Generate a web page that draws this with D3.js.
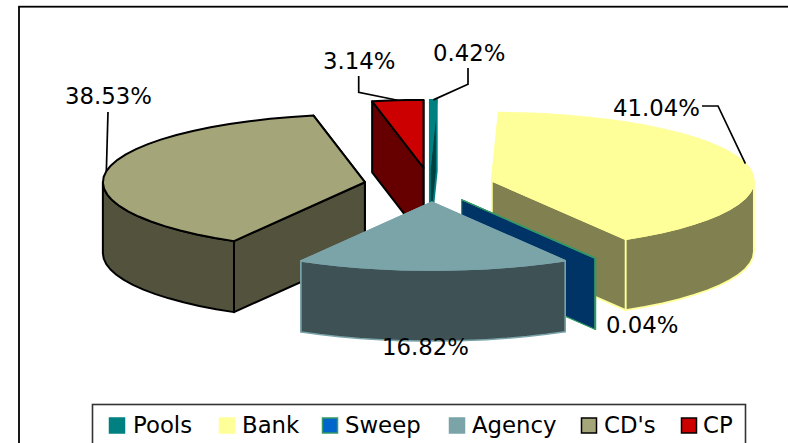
<!DOCTYPE html>
<html>
<head>
<meta charset="utf-8">
<script src="https://cdnjs.cloudflare.com/ajax/libs/d3/7.8.5/d3.min.js"></script>
<style>
html,body{margin:0;padding:0;background:#fff;overflow:hidden}
svg{display:block}
text{font-family:"DejaVu Sans",sans-serif;font-size:22.8px;fill:#000}
</style>
</head>
<body>
<svg id="c" width="788" height="443"></svg>
<script>
// ---- data ----
const categories = ["Pools", "Bank", "Sweep", "Agency", "CD's", "CP"];
const shares = [0.42, 41.04, 0.04, 16.82, 38.53, 3.14];
const shareLabels = ["0.42%", "41.04%", "0.04%", "16.82%", "38.53%", "3.14%"];
// ---- styles ----
const topColors = ["#008080", "#FFFF99", "#0066CC", "#7BA4A9", "#A5A57A", "#CC0000"];
const wallColors = ["#004040", "#808050", "#003366", "#3E5255", "#53533D", "#660000"];
const edgeColors = ["#008080", "#FFFF99", "#339966", "#7BA4A9", "#000000", "#000000"];
const edgeWidths = [1.8, 1.8, 1.2, 1.5, 2, 2];
const paintOrder = ["Pools", "CP", "CD's", "Bank", "Sweep", "Agency"];

const svg = d3.select("#c");
const W = 788, H = 443;
const centerX = 428, centerY = 185;
const radiusX = 262, radiusY = 68, depth = 71, explode = 66;

const px = d3.scaleLinear().domain([-1, 1]).range([-radiusX, radiusX]);
const py = d3.scaleLinear().domain([-1, 1]).range([-radiusY, radiusY]);
const topScale = d3.scaleOrdinal(categories, topColors);
const wallScale = d3.scaleOrdinal(categories, wallColors);
const edgeScale = d3.scaleOrdinal(categories, edgeColors);
const widthScale = d3.scaleOrdinal(categories, edgeWidths);
const nudgeX = d3.scaleOrdinal(categories, [1, 0, 0, 3.5, 2, 2]);

const slices = d3.pie().sort(null).value((d, i) => shares[i])(categories);
const line = d3.line();
const closed = pts => line(pts) + "Z";

function geometry(s) {
  const mid = (s.startAngle + s.endAngle) / 2;
  const ox = centerX + nudgeX(s.data) + explode / radiusX * px(Math.sin(mid));
  const oy = centerY - explode / radiusX * py(Math.cos(mid));
  const rim = a => [ox + px(Math.sin(a)), oy - py(Math.cos(a))];
  const arc = (a0, a1) => {
    const n = Math.max(1, Math.ceil((a1 - a0) / (Math.PI / 36)));
    return d3.range(n + 1).map(i => rim(a0 + (a1 - a0) * i / n));
  };
  return { mid, ox, oy, rim, arc };
}
const drop = p => [p[0], p[1] + depth];

// frame
svg.append("rect").attr("width", W).attr("height", H).attr("fill", "#fff");
svg.append("rect").attr("x", 19).attr("y", 6.7).attr("width", W + 20).attr("height", H + 20)
  .attr("fill", "none").attr("stroke", "#000").attr("stroke-width", 1.8);

// slices
const byName = new Map(slices.map(s => [s.data, s]));
paintOrder.forEach(name => {
  const s = byName.get(name);
  const g = geometry(s);
  const grp = svg.append("g")
    .attr("stroke", edgeScale(name))
    .attr("stroke-width", widthScale(name))
    .attr("stroke-linejoin", "round");
  const apex = [g.ox, g.oy];
  // radial walls, furthest rim point first
  [s.startAngle, s.endAngle]
    .sort((a, b) => Math.cos(b) - Math.cos(a))
    .forEach(a => {
      const r = g.rim(a);
      grp.append("path").attr("fill", wallScale(name))
        .attr("d", closed([apex, r, drop(r), drop(apex)]));
    });
  // outer curved wall: only the part that faces the viewer
  const a0 = Math.max(s.startAngle, Math.PI / 2);
  const a1 = Math.min(s.endAngle, Math.PI * 1.5);
  if (a1 > a0) {
    const upper = g.arc(a0, a1);
    const lower = upper.map(drop).reverse();
    grp.append("path").attr("fill", wallScale(name)).attr("d", closed(upper.concat(lower)));
  }
  // top face
  grp.append("path").attr("fill", topScale(name))
    .attr("d", closed([apex].concat(g.arc(s.startAngle, s.endAngle))));
});

// data labels and leaders
const labelX = d3.scaleOrdinal(categories, [433, 613, 606, 382, 65, 323]);
const labelY = d3.scaleOrdinal(categories, [61, 116, 333, 355, 104, 69]);
const elbows = new Map([
  ["Pools", [[468, 68], [468, 84.3]]],
  ["Bank", [[702, 106], [718, 106]]],
  ["CD's", [[108, 112]]],
  ["CP", [[358.7, 76], [358.7, 92.3]]]
]);
elbows.forEach((pts, name) => {
  const g = geometry(byName.get(name));
  svg.append("path").attr("fill", "none").attr("stroke", "#000").attr("stroke-width", 1.7)
    .attr("d", line(pts.concat([g.rim(g.mid)])));
});
svg.selectAll("text.lab").data(categories).join("text").attr("class", "lab")
  .attr("x", d => labelX(d)).attr("y", d => labelY(d))
  .text((d, i) => shareLabels[i]);

// legend
svg.append("rect").attr("x", 92.5).attr("y", 404.5).attr("width", 653).attr("height", 60)
  .attr("fill", "#fff").attr("stroke", "#333").attr("stroke-width", 1.6);
const swatchX = d3.scaleOrdinal(categories, [109.5, 219.5, 322.5, 449.5, 581.5, 681.5]);
const textX = d3.scaleOrdinal(categories, [133, 242, 345, 472, 604, 703]);
const items = svg.selectAll("g.leg").data(categories).join("g").attr("class", "leg");
items.append("rect").attr("x", d => swatchX(d)).attr("y", 418).attr("width", 15).attr("height", 15)
  .attr("fill", d => topScale(d)).attr("stroke", d => edgeScale(d)).attr("stroke-width", 1.5);
items.append("text").attr("x", d => textX(d)).attr("y", 433).text(d => d);
</script>
</body>
</html>
